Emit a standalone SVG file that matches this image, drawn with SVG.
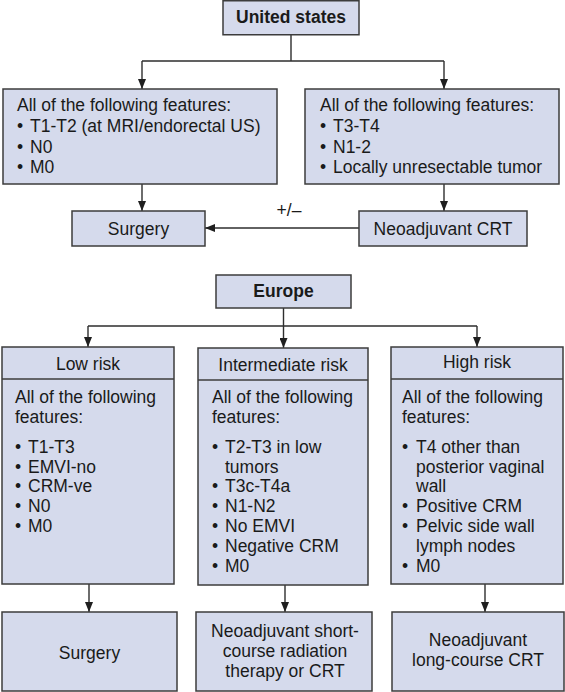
<svg xmlns="http://www.w3.org/2000/svg" width="565" height="692" viewBox="0 0 565 692">
<style>
.box{fill:#d5daec;stroke:#3c3c3c;stroke-width:1.5}
.div{stroke:#3c3c3c;stroke-width:1.5;fill:none}
.t{font-family:"Liberation Sans",Arial,Helvetica,sans-serif;font-size:17.5px;fill:#1a1a1a}
.b{font-weight:bold}
.c{text-anchor:middle}
.ln{fill:none;stroke:#2e2e2e;stroke-width:1.4}
.ar{marker-end:url(#ah)}
</style>
<defs>
<marker id="ah" markerUnits="userSpaceOnUse" markerWidth="10" markerHeight="8" refX="10" refY="4" orient="auto">
<path d="M0,0 L10,4 L0,8 z" fill="#1f1f1f"/>
</marker>
</defs>
<rect width="565" height="692" fill="#ffffff"/>

<g id="connectors">
<path class="ln" d="M291 34 V61 M142 61 H444"/>
<path class="ln ar" d="M142 61 V89"/>
<path class="ln ar" d="M444 61 V89"/>
<path class="ln ar" d="M142 184 V211"/>
<path class="ln ar" d="M444 184 V211"/>
<path class="ln ar" d="M359 228 H205"/>
<text class="t c" x="289" y="216">+/–</text>
<path class="ln" d="M283.5 308 V326 M88 326 H477"/>
<path class="ln ar" d="M88 326 V347"/>
<path class="ln ar" d="M283.5 326 V348"/>
<path class="ln ar" d="M477 326 V347"/>
<path class="ln ar" d="M89 584 V612"/>
<path class="ln ar" d="M285 585 V612"/>
<path class="ln ar" d="M485 584 V612"/>
</g>

<g id="us">
<rect class="box" x="223" y="0.75" width="136" height="34"/>
<text class="t b c" x="291" y="23">United states</text>
</g>

<g id="us-left">
<rect class="box" x="3" y="89" width="274" height="95"/>
<text class="t" x="17" y="111">All of the following features:</text>
<text class="t" x="17" y="132">•</text><text class="t" x="30" y="132">T1-T2 (at MRI/endorectal US)</text>
<text class="t" x="17" y="152.5">•</text><text class="t" x="30" y="152.5">N0</text>
<text class="t" x="17" y="173">•</text><text class="t" x="30" y="173">M0</text>
</g>

<g id="us-right">
<rect class="box" x="305" y="89" width="254" height="95"/>
<text class="t" x="320" y="111">All of the following features:</text>
<text class="t" x="320" y="132">•</text><text class="t" x="333" y="132">T3-T4</text>
<text class="t" x="320" y="152.5">•</text><text class="t" x="333" y="152.5">N1-2</text>
<text class="t" x="320" y="173">•</text><text class="t" x="333" y="173">Locally unresectable tumor</text>
</g>

<g id="us-surgery">
<rect class="box" x="72" y="211" width="133" height="35"/>
<text class="t c" x="138.5" y="234.5">Surgery</text>
</g>

<g id="us-crt">
<rect class="box" x="359" y="211" width="168" height="35"/>
<text class="t c" x="443" y="234.5">Neoadjuvant CRT</text>
</g>

<g id="europe">
<rect class="box" x="216" y="275" width="135" height="33"/>
<text class="t b c" x="283.5" y="297">Europe</text>
</g>

<g id="low-risk">
<rect class="box" x="2" y="347" width="172" height="237"/>
<path class="div" d="M2 379 H174"/>
<text class="t c" x="88" y="370">Low risk</text>
<text class="t" x="15" y="403">All of the following</text>
<text class="t" x="15" y="423">features:</text>
<text class="t" x="15" y="453">•</text><text class="t" x="28" y="453">T1-T3</text>
<text class="t" x="15" y="472.7">•</text><text class="t" x="28" y="472.7">EMVI-no</text>
<text class="t" x="15" y="492.4">•</text><text class="t" x="28" y="492.4">CRM-ve</text>
<text class="t" x="15" y="512">•</text><text class="t" x="28" y="512">N0</text>
<text class="t" x="15" y="531.8">•</text><text class="t" x="28" y="531.8">M0</text>
</g>

<g id="intermediate-risk">
<rect class="box" x="198" y="348" width="170" height="237"/>
<path class="div" d="M198 380 H368"/>
<text class="t c" x="283" y="371">Intermediate risk</text>
<text class="t" x="212" y="403">All of the following</text>
<text class="t" x="212" y="423">features:</text>
<text class="t" x="212" y="453">•</text><text class="t" x="225" y="453">T2-T3 in low</text>
<text class="t" x="225" y="472.7">tumors</text>
<text class="t" x="212" y="492.4">•</text><text class="t" x="225" y="492.4">T3c-T4a</text>
<text class="t" x="212" y="512">•</text><text class="t" x="225" y="512">N1-N2</text>
<text class="t" x="212" y="531.8">•</text><text class="t" x="225" y="531.8">No EMVI</text>
<text class="t" x="212" y="551.5">•</text><text class="t" x="225" y="551.5">Negative CRM</text>
<text class="t" x="212" y="572">•</text><text class="t" x="225" y="572">M0</text>
</g>

<g id="high-risk">
<rect class="box" x="391" y="347" width="172" height="237"/>
<path class="div" d="M391 379 H563"/>
<text class="t c" x="477" y="368">High risk</text>
<text class="t" x="402" y="403">All of the following</text>
<text class="t" x="402" y="423">features:</text>
<text class="t" x="402" y="453">•</text><text class="t" x="416" y="453">T4 other than</text>
<text class="t" x="416" y="472.7">posterior vaginal</text>
<text class="t" x="416" y="492.4">wall</text>
<text class="t" x="402" y="512">•</text><text class="t" x="416" y="512">Positive CRM</text>
<text class="t" x="402" y="531.8">•</text><text class="t" x="416" y="531.8">Pelvic side wall</text>
<text class="t" x="416" y="551.5">lymph nodes</text>
<text class="t" x="402" y="571.5">•</text><text class="t" x="416" y="571.5">M0</text>
</g>

<g id="eu-surgery">
<rect class="box" x="2" y="612" width="175" height="79"/>
<text class="t c" x="89.5" y="659">Surgery</text>
</g>

<g id="eu-short">
<rect class="box" x="196" y="612" width="176" height="79"/>
<text class="t c" x="285" y="637">Neoadjuvant short-</text>
<text class="t c" x="285" y="657">course radiation</text>
<text class="t c" x="285" y="677">therapy or CRT</text>
</g>

<g id="eu-long">
<rect class="box" x="392" y="612" width="172" height="79"/>
<text class="t c" x="478" y="646">Neoadjuvant</text>
<text class="t c" x="478" y="666">long-course CRT</text>
</g>
</svg>
